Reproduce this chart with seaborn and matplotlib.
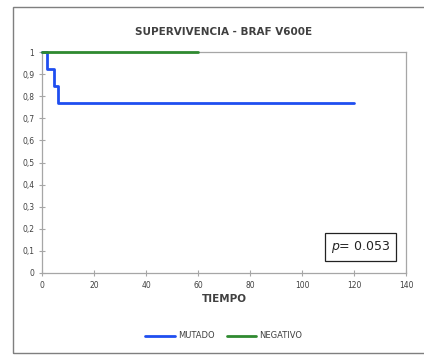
import matplotlib
matplotlib.use("Agg")
import matplotlib.pyplot as plt
import seaborn as sns
import pandas as pd

sns.set_theme(style="white")
plt.rcParams['font.family'] = ['DejaVu Sans']

mutado_t = [0, 2, 4.5, 6, 120]
mutado_s = [1.0, 0.923, 0.846, 0.769, 0.769]
negativo_t = [0, 60]
negativo_s = [1.0, 1.0]
xticks = [0, 20, 40, 60, 80, 100, 120, 140]
yticks = [0, 0.1, 0.2, 0.3, 0.4, 0.5, 0.6, 0.7, 0.8, 0.9, 1]
ylabels = ["0", "0,1", "0,2", "0,3", "0,4", "0,5", "0,6", "0,7", "0,8", "0,9", "1"]

df = pd.concat([
    pd.DataFrame({"t": mutado_t, "s": mutado_s, "g": "MUTADO"}),
    pd.DataFrame({"t": negativo_t, "s": negativo_s, "g": "NEGATIVO"}),
])

fig = plt.figure(figsize=(4.24, 3.56), dpi=100)
fig.patches.append(plt.Rectangle((13/424, 3/356), 420/424, 346/356, transform=fig.transFigure,
                                 fill=False, edgecolor="#7f7f7f", lw=1))
ax = fig.add_axes([42/424, 1-273/356, 364/424, 221/356])
sns.lineplot(data=df, x="t", y="s", hue="g", palette={"MUTADO": "#1f4ef0", "NEGATIVO": "#2f8a30"},
             drawstyle="steps-post", lw=2, ax=ax, legend=True, estimator=None, sort=False)
for ln in ax.get_lines():
    ln.set_clip_on(False)
    ln.set_zorder(5)
ax.set_xlim(0, 140)
ax.set_ylim(0, 1)
ax.set_xticks(xticks)
ax.set_xticklabels([str(x) for x in xticks])
ax.set_yticks(yticks)
ax.set_yticklabels(ylabels)
ax.tick_params(axis="both", bottom=True, left=True, labelsize=5.5, colors="#a6a6a6",
               direction="inout", length=4, width=0.8, labelcolor="#404040")
for s in ax.spines.values():
    s.set_color("#a6a6a6")
    s.set_linewidth(0.9)
ax.set_xlabel("TIEMPO", fontsize=7.5, fontweight="bold", color="#404040", labelpad=3)
ax.set_ylabel("")
ax.set_title("SUPERVIVENCIA - BRAF V600E", fontsize=7.5, fontweight="bold", color="#404040", pad=12)
ax.text(0.875, 0.118, r"$p$= 0.053", transform=ax.transAxes, ha="center", va="center",
        fontsize=9, color="#222222",
        bbox=dict(boxstyle="square,pad=0.5", facecolor="white", edgecolor="#222222", lw=0.9))
leg = ax.legend(loc="center", bbox_to_anchor=(0.5, (1-336/356 - (1-273/356))/(221/356)),
                ncol=2, frameon=False, fontsize=6, handlelength=3.5, columnspacing=1.5,
                handletextpad=0.4)
for t in leg.get_texts():
    t.set_color("#404040")
fig.savefig("out.png", dpi=100)
